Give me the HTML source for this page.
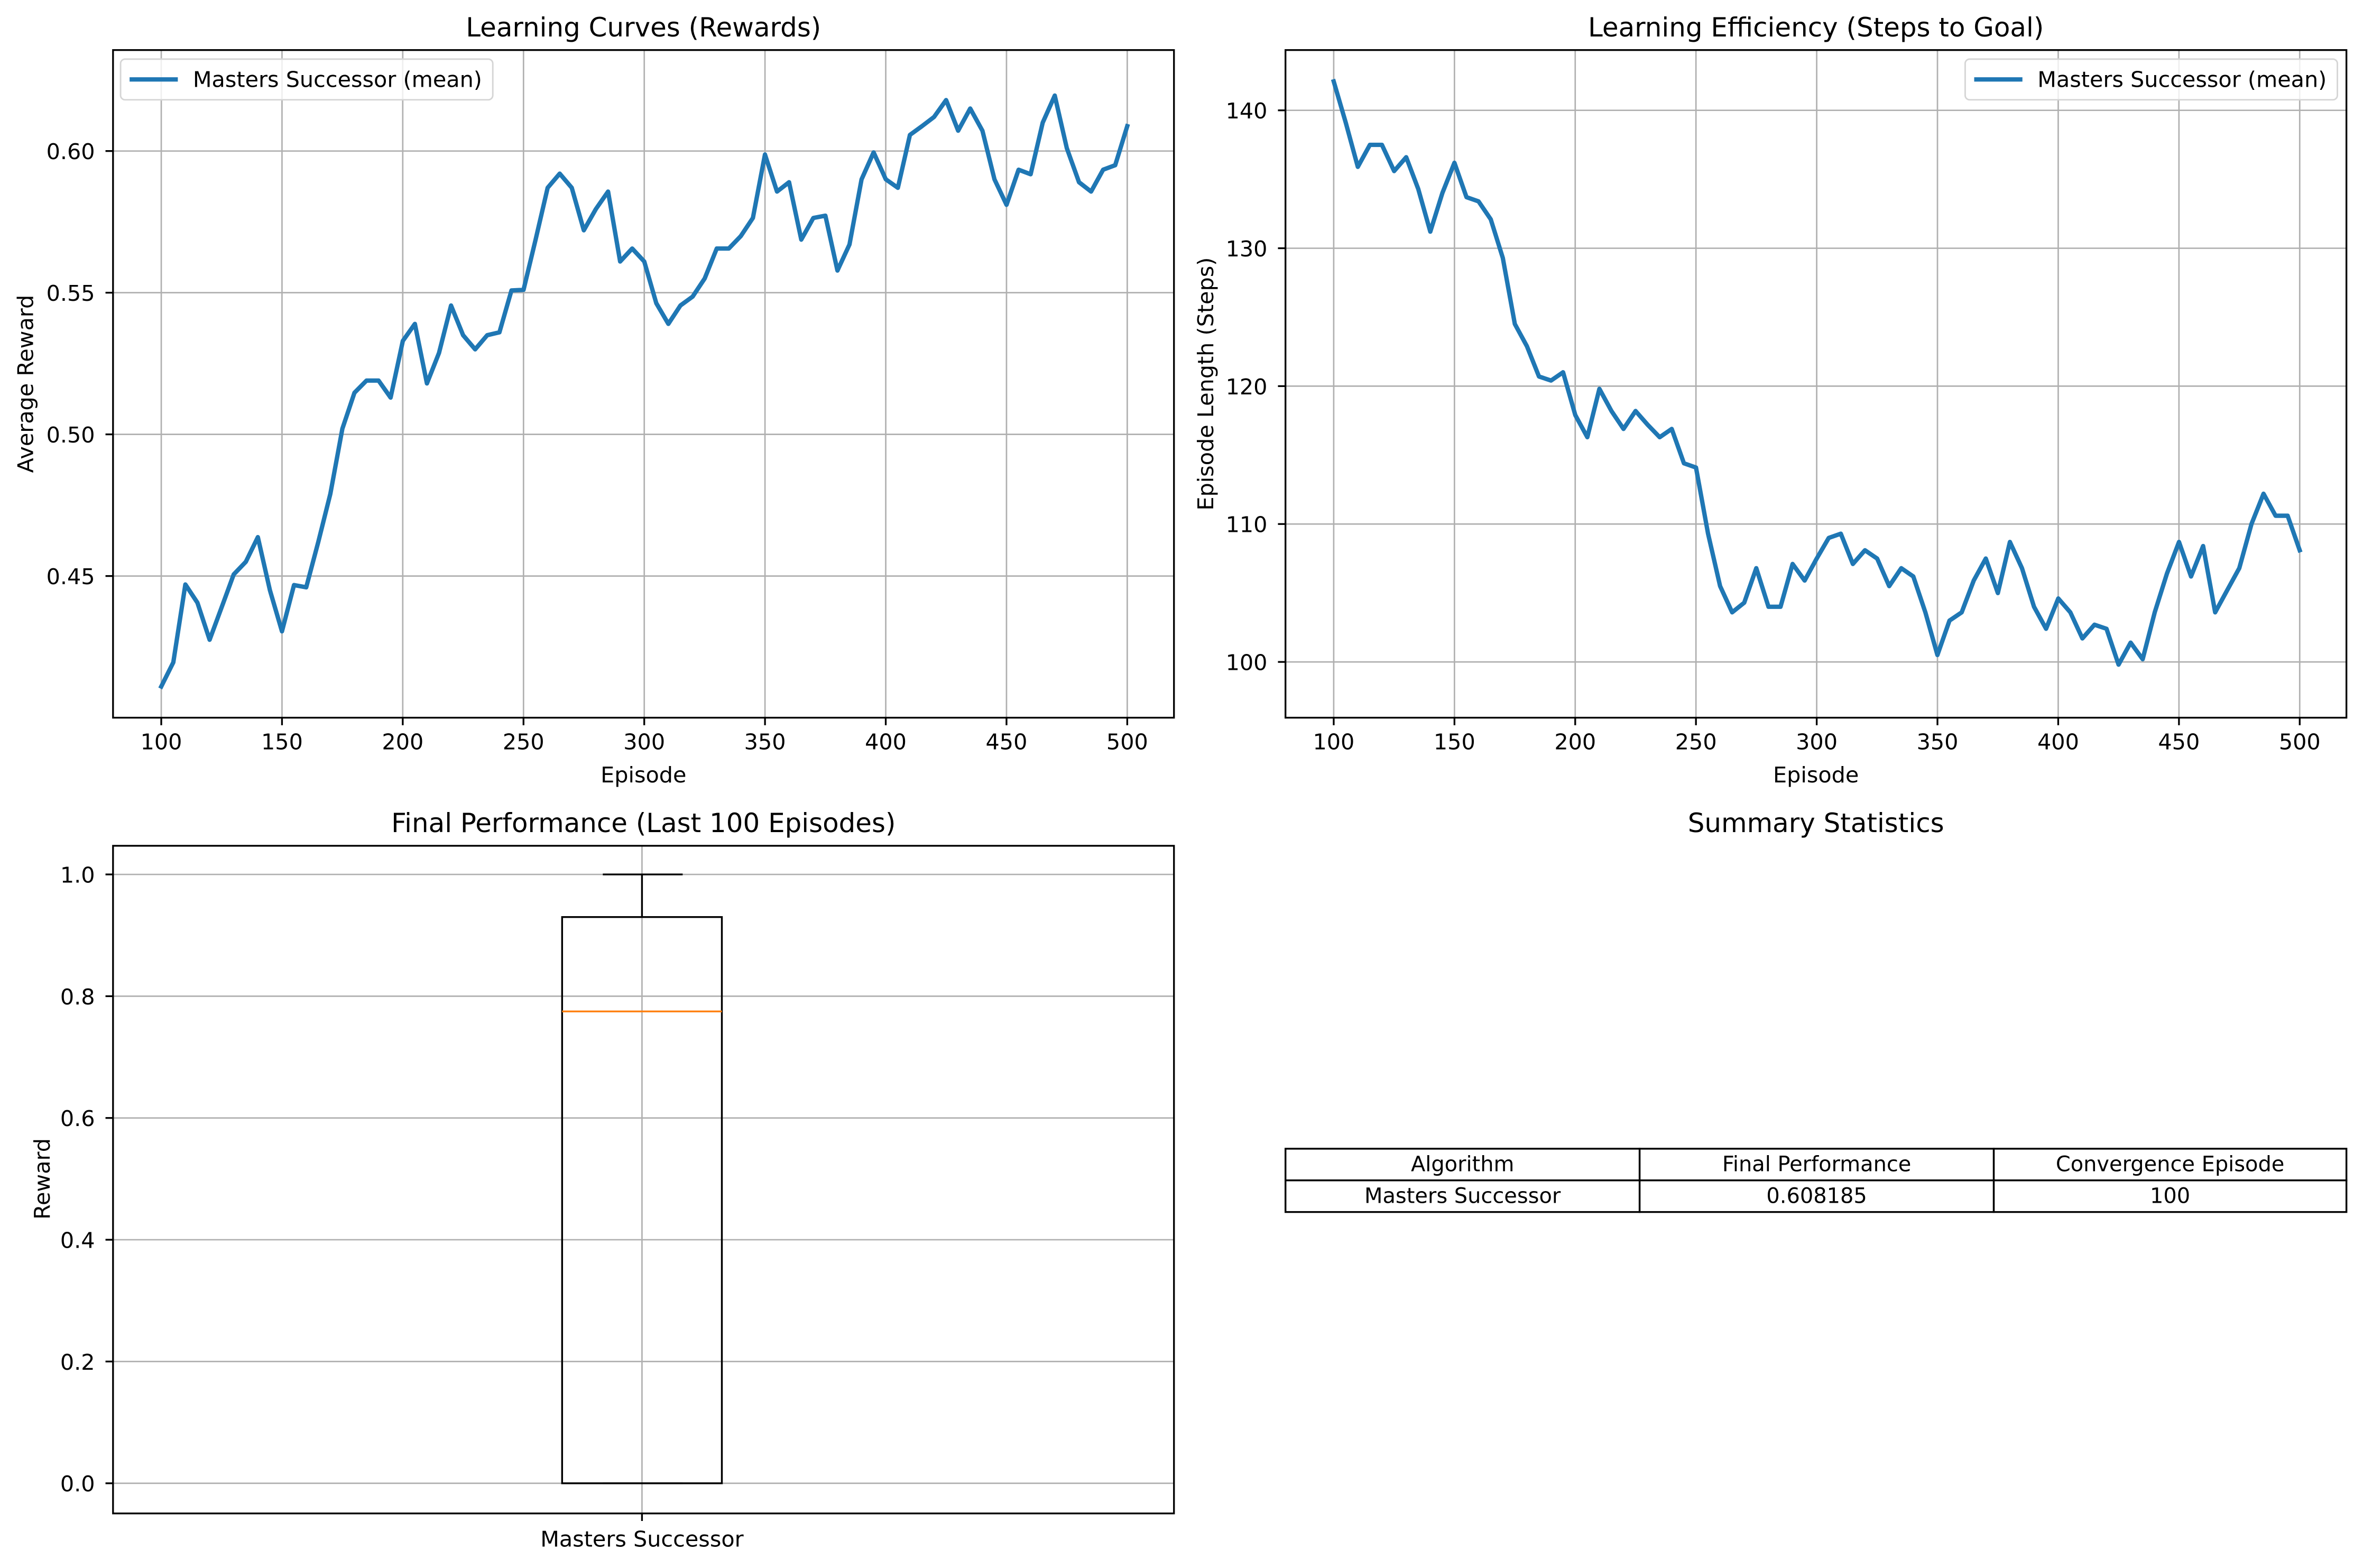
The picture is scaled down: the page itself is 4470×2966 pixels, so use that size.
<!DOCTYPE html>
<html><head><meta charset="utf-8"><style>
html,body{margin:0;padding:0;background:#fff}
svg{display:block;font-family:"DejaVu Sans","Liberation Sans",sans-serif}
</style></head><body>
<svg id="fig" width="4470" height="2966" viewBox="0 0 1568 1040" xmlns="http://www.w3.org/2000/svg">
<rect width="1568" height="1040" fill="#fff"/>
<g id="p1"></g>
<g id="p2"></g>
<g id="p3"></g>
<g id="p4"></g>
</svg>
<script>
const episodes = [100,105,110,115,120,125,130,135,140,145,150,155,160,165,170,175,180,185,190,195,200,205,210,215,220,225,230,235,240,245,250,255,260,265,270,275,280,285,290,295,300,305,310,315,320,325,330,335,340,345,350,355,360,365,370,375,380,385,390,395,400,405,410,415,420,425,430,435,440,445,450,455,460,465,470,475,480,485,490,495,500];
const rewards = [0.411,0.4195,0.447,0.4406,0.4275,0.439,0.4506,0.455,0.4637,0.445,0.4305,0.4468,0.446,0.462,0.479,0.502,0.5147,0.519,0.519,0.513,0.533,0.539,0.518,0.5287,0.5455,0.535,0.53,0.535,0.536,0.5508,0.551,0.5687,0.587,0.592,0.587,0.572,0.5795,0.5857,0.561,0.5656,0.561,0.5463,0.539,0.5455,0.5486,0.555,0.5656,0.5656,0.570,0.5764,0.5988,0.5857,0.589,0.5687,0.5764,0.5772,0.5578,0.567,0.590,0.5995,0.590,0.587,0.6057,0.6088,0.612,0.618,0.6072,0.615,0.6072,0.590,0.581,0.5934,0.5918,0.610,0.6196,0.601,0.589,0.5857,0.5934,0.595,0.6088];
const steps = [142.1,139.1,135.9,137.5,137.5,135.6,136.6,134.3,131.2,134.0,136.2,133.7,133.4,132.1,129.3,124.5,122.9,120.7,120.4,121.0,117.9,116.3,119.8,118.2,116.9,118.2,117.2,116.3,116.9,114.4,114.1,109.3,105.5,103.6,104.3,106.8,104.0,104.0,107.1,105.9,107.5,109.0,109.3,107.1,108.1,107.5,105.5,106.8,106.2,103.6,100.5,103.0,103.6,105.9,107.5,105.0,108.7,106.8,104.0,102.4,104.6,103.6,101.7,102.7,102.4,99.8,101.4,100.2,103.6,106.4,108.7,106.2,108.4,103.6,105.2,106.8,110.0,112.2,110.6,110.6,108.1];
const xTicks = [100,150,200,250,300,350,400,450,500];
const rewardTicks = [0.45,0.50,0.55,0.60];
const stepTicks = [100,110,120,130,140];
const boxTicks = [0.0,0.2,0.4,0.6,0.8,1.0];
const boxStats = [0.0,0.0,0.775,0.93,1.0]; // min,q1,median,q3,max
const tableHeader = ["Algorithm","Final Performance","Convergence Episode"];
const tableRow = ["Masters Successor","0.608185","100"];

const NS="http://www.w3.org/2000/svg";
function mk(parent,tag,attrs,text){const e=document.createElementNS(NS,tag);for(const k in attrs)e.setAttribute(k,attrs[k]);if(text!==undefined)e.textContent=text;parent.appendChild(e);return e;}
const GRID="#b0b0b0",BLUE="#1f77b4",FS=14.5,TFS=17.5,GW=0.95,SW=1.17;

function linePanel(g,L,R,T,B,xs,ys,yt,fmt,title,ylabel,legendRight,ylx){
  const x0=107-75+L, x1=748-75+L;
  const X=v=>x0+(v-100)*(x1-x0)/400;
  for(const t of xTicks){
    let l=mk(g,'line',{x1:X(t),x2:X(t),y1:T,y2:B,stroke:GRID,'stroke-width':GW});
    
    mk(g,'line',{x1:X(t),x2:X(t),y1:B,y2:B+5,stroke:'#000','stroke-width':SW});
    let tx=mk(g,'text',{x:X(t),y:B+21,'font-size':FS,'text-anchor':'middle'},String(t));
    
  }
  for(const t of yt){
    const y=ys(t);
    let l=mk(g,'line',{x1:L,x2:R,y1:y,y2:y,stroke:GRID,'stroke-width':GW});
    
    mk(g,'line',{x1:L-5,x2:L,y1:y,y2:y,stroke:'#000','stroke-width':SW});
    let tx=mk(g,'text',{x:L-12,y:y+5.4,'font-size':FS,'text-anchor':'end'},fmt(t));
    
  }
  let d=episodes.map((e,i)=>(i?'L':'M')+X(e).toFixed(1)+','+ys(xs[i]).toFixed(1)).join('');
  let p=mk(g,'path',{d:d,fill:'none',stroke:BLUE,'stroke-width':2.9,'stroke-linejoin':'round','stroke-linecap':'square'});
  
  mk(g,'rect',{x:L,y:T,width:R-L,height:B-T,fill:'none',stroke:'#000','stroke-width':SW});
  let tt=mk(g,'text',{x:(L+R)/2,y:T-9,'font-size':TFS,'text-anchor':'middle'},title);
  
  let xl=mk(g,'text',{x:(L+R)/2,y:B+43,'font-size':FS,'text-anchor':'middle'},'Episode');
  
  let yl=mk(g,'text',{x:ylx,y:(T+B)/2,'font-size':FS,'text-anchor':'middle',transform:`rotate(-90 ${ylx} ${(T+B)/2})`},ylabel);
  
  const lx=legendRight?R-253:L+5;
  let lg=mk(g,'g',{});
  
  mk(lg,'rect',{x:lx,y:T+6,width:247,height:27,rx:3,fill:'#fff','fill-opacity':0.8,stroke:'#d5d5d5','stroke-width':1});
  mk(lg,'line',{x1:lx+6,x2:lx+38,y1:T+19.5,y2:T+19.5,stroke:BLUE,'stroke-width':2.9});
  mk(lg,'text',{x:lx+48,y:T+24.5,'font-size':FS},'Masters Successor (mean)');
}
linePanel(document.getElementById('p1'),75,779,33,476,rewards,v=>100+(0.60-v)/0.05*94,rewardTicks,v=>v.toFixed(2),'Learning Curves (Rewards)','Average Reward',false,22);
linePanel(document.getElementById('p2'),853,1557,33,476,steps,v=>73+(140-v)/10*91.5,stepTicks,v=>String(v),'Learning Efficiency (Steps to Goal)','Episode Length (Steps)',true,805);

(function(){
  const g=document.getElementById('p3');const L=75,R=779,T=561,B=1004;
  const Y=v=>984-v*404; const cx=426;
  mk(g,'line',{x1:cx,x2:cx,y1:T,y2:B,stroke:GRID,'stroke-width':GW});
  for(const t of boxTicks){
    const y=Y(t);
    let l=mk(g,'line',{x1:L,x2:R,y1:y,y2:y,stroke:GRID,'stroke-width':GW});
    
    mk(g,'line',{x1:L-5,x2:L,y1:y,y2:y,stroke:'#000','stroke-width':SW});
    let tx=mk(g,'text',{x:L-12,y:y+5.4,'font-size':FS,'text-anchor':'end'},t.toFixed(1));
    
  }
  const [mn,q1,med,q3,mx]=boxStats;
  let bx=mk(g,'rect',{x:373,y:Y(q3),width:106,height:Y(q1)-Y(q3),fill:'none',stroke:'#000','stroke-width':1.2});
  
  let md=mk(g,'line',{x1:373,x2:479,y1:Y(med),y2:Y(med),stroke:'#ff7f0e','stroke-width':1.2});
  
  let wk=mk(g,'line',{x1:cx,x2:cx,y1:Y(q3),y2:Y(mx),stroke:'#000','stroke-width':1.2});
  
  mk(g,'line',{x1:400,x2:453,y1:Y(mx),y2:Y(mx),stroke:'#000','stroke-width':1.2});
  mk(g,'line',{x1:cx,x2:cx,y1:Y(q1),y2:Y(mn),stroke:'#000','stroke-width':1.2});
  mk(g,'line',{x1:400,x2:453,y1:Y(mn),y2:Y(mn),stroke:'#000','stroke-width':1.2});
  mk(g,'rect',{x:L,y:T,width:R-L,height:B-T,fill:'none',stroke:'#000','stroke-width':SW});
  mk(g,'line',{x1:cx,x2:cx,y1:B,y2:B+5,stroke:'#000','stroke-width':SW});
  let xl=mk(g,'text',{x:cx,y:B+22,'font-size':FS,'text-anchor':'middle'},'Masters Successor');
  
  let tt=mk(g,'text',{x:(L+R)/2,y:T-9,'font-size':TFS,'text-anchor':'middle'},'Final Performance (Last 100 Episodes)');
  
  let yl=mk(g,'text',{x:33,y:782,'font-size':FS,'text-anchor':'middle',transform:'rotate(-90 33 782)'},'Reward');
  
})();

(function(){
  const g=document.getElementById('p4');
  let tt=mk(g,'text',{x:1205,y:552,'font-size':TFS,'text-anchor':'middle'},'Summary Statistics');
  
  const cols=[853,1088,1323,1557],rows=[762,783,804];
  [tableHeader,tableRow].forEach((r,ri)=>{
    r.forEach((c,ci)=>{
      let cell=mk(g,'rect',{x:cols[ci],y:rows[ri],width:cols[ci+1]-cols[ci],height:rows[ri+1]-rows[ri],fill:'#fff',stroke:'#000','stroke-width':1.2});
      
      let t=mk(g,'text',{x:(cols[ci]+cols[ci+1])/2,y:rows[ri]+15,'font-size':14,'text-anchor':'middle'},c);
      
    });
  });
})();
</script>
</body></html>
